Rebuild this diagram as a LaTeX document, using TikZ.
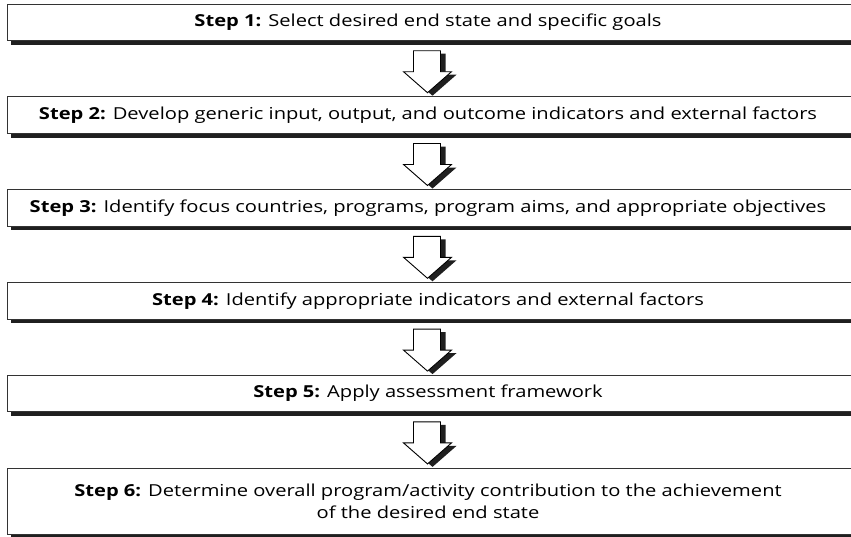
\documentclass[tikz,border=0pt]{standalone}
\usepackage{fontspec}
\setmainfont{Open Sans}[FakeStretch=1.22]
\begin{document}
\begin{tikzpicture}[x=1pt,y=-1pt,
  boxline/.style={draw=black!80, line width=0.9pt, fill=white},
  shadowfill/.style={fill=black!88},
  steptext/.style={font=\fontsize{16.5}{22}\selectfont, align=center, inner sep=0pt},
  arrowline/.style={draw=black, line width=0.9pt, fill=white, line join=miter}]
\useasboundingbox (0,0) rectangle (851,536);
\clip (0,0) rectangle (851,536);
% boxes
\foreach \i/\t/\b in {1/4/40.7, 2/96.8/133.5, 3/189.6/226.3, 4/282.4/319.1, 5/375.2/411.9, 6/468/534}{
  \fill[shadowfill] (10.5,\t+4) rectangle (870,\b+4);
  \draw[boxline] (7,\t) rectangle (865,\b);
}
% texts
\node[steptext] (b1) at (428,22.4) {\textbf{Step 1:} Select desired end state and specific goals};
\node[steptext] (b2) at (428,115.2) {\textbf{Step 2:} Develop generic input, output, and outcome indicators and external factors};
\node[steptext] (b3) at (428,208) {\textbf{Step 3:} Identify focus countries, programs, program aims, and appropriate objectives};
\node[steptext] (b4) at (428,300.8) {\textbf{Step 4:} Identify appropriate indicators and external factors};
\node[steptext] (b5) at (428,393.6) {\textbf{Step 5:} Apply assessment framework};
\node[steptext] (b6) at (428,501) {\textbf{Step 6:} Determine overall program/activity contribution to the achievement\\of the desired end state};
% arrows
\foreach \y/\n in {40.7/a1, 133.5/a2, 226.3/a3, 319.1/a4, 411.9/a5}{
  \coordinate (\n) at (427.5,\y);
  \fill[black!88] ([shift={(5,3)}]\n) ++(-14,10) -- ++(27,0) -- ++(0,21) -- ++(11,0) -- ++(-24,21) -- ++(-24,-21) -- ++(10,0) -- cycle;
  \draw[arrowline] (\n) ++(-14,10) -- ++(27,0) -- ++(0,21) -- ++(11,0) -- ++(-24,21) -- ++(-24,-21) -- ++(10,0) -- cycle;
}
\end{tikzpicture}
\end{document}
